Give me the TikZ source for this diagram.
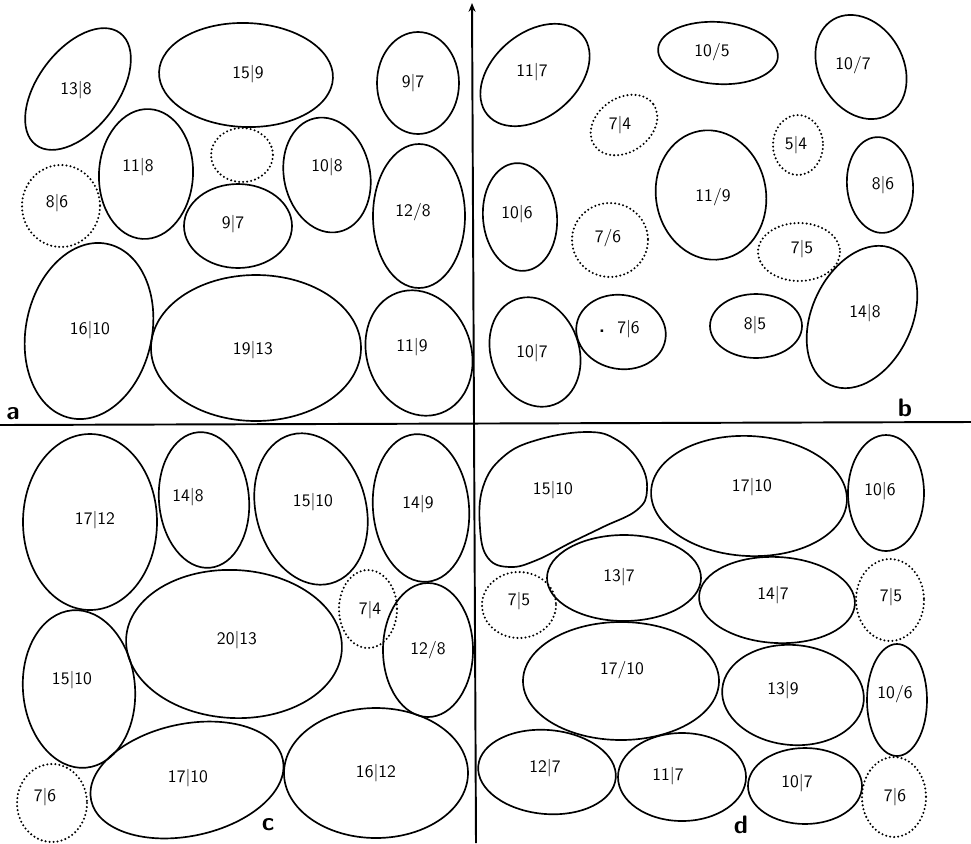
\documentclass[tikz,border=0pt]{standalone}
\usepackage{tikz}
\usetikzlibrary{arrows.meta}

\begin{document}
\begin{tikzpicture}[x=0.02cm, y=-0.02cm,
		blob/.style={line width=0.95pt},
		pore/.style={line width=1.3pt, line cap=round, dash pattern=on 0pt off 2.3pt},
		wert/.style={font=\sffamily, inner sep=1pt},
		feld/.style={font=\sffamily\bfseries\Large, inner sep=0pt}]
		
		\useasboundingbox (0,0) rectangle (971,843);
		
		% Achsen
		\coordinate (oben) at (472,3);
		\coordinate (unten) at (476,843);
		\coordinate (links) at (0,425);
		\coordinate (rechts) at (971,422);
		\draw[line width=1.1pt, -{Stealth[length=5pt,width=4pt]}] (unten) -- (oben);
		\draw[line width=1.1pt] (links) -- (rechts);
		
		% Feld a
		\foreach \x/\y/\a/\b/\r/\lx/\ly/\s/\t [count=\i] in {
			78/89/70/40/53/76/90/blob/13|8, 246/75/87/52/-2/248/74/blob/15|9,
			418/83/41/51/0/413/83/blob/9|7, 146/174/47/65/-3/138/167/blob/11|8,
			242/155/31/27/0/242/155/pore/{}, 327/175/43/58/12/327/167/blob/10|8,
			61/206/39/41/0/57/203/pore/8|6, 238/226/54/42/0/233/224/blob/9|7,
			419/216/46/72/0/413/212/blob/{12/8}, 89/331/63/89/-12/90/330/blob/16|10,
			256/348/105/73/0/253/350/blob/19|13, 419/353/52/64/20/412/347/blob/11|9}
		{
			\draw[\s, rotate around={\r:(\x,\y)}] (\x,\y) ellipse [x radius=\a, y radius=\b];
			\node[wert] (a\i) at (\lx,\ly) {\t};
		}
		\node[feld] (fa) at (13,414) {a};
		
		% Feld b
		\foreach \x/\y/\a/\b/\r/\lx/\ly/\s/\t [count=\i] in {
			535/75/62/42/40/532/72/blob/11|7, 718/53/60/31/-4/712/52/blob/{10/5},
			861/67/42/55/30/853/65/blob/{10/7}, 624/125/36/27/35/620/125/pore/7|4,
			798/145/25/30/0/796/145/pore/5|4, 520/217/37/54/5/517/214/blob/10|6,
			610/240/38/37/0/608/238/pore/{7/6}, 711/195/55/65/10/713/197/blob/{11/9},
			880/185/33/48/5/883/185/blob/8|6, 799/252/41/29/0/802/249/pore/7|5,
			535/352/44/56/20/532/353/blob/10|7, 621/332/45/37/-10/619/329/blob/{{\tiny\textbullet}~~7|6},
			756/326/46/32/0/755/325/blob/8|5, 862/317/50/75/-25/865/313/blob/14|8}
		{
			\draw[\s, rotate around={\r:(\x,\y)}] (\x,\y) ellipse [x radius=\a, y radius=\b];
			\node[wert] (b\i) at (\lx,\ly) {\t};
		}
		\node[feld] (fb) at (905,408) {b};
		
		% Feld c
		\foreach \x/\y/\a/\b/\r/\lx/\ly/\s/\t [count=\i] in {
			90/522/67/88/0/95/520/blob/17|12, 204/500/45/68/5/188/497/blob/14|8,
			311/509/55/77/15/313/502/blob/15|10, 421/508/48/74/5/418/504/blob/14|9,
			234/644/108/74/-3/237/640/blob/20|13, 368/609/29/39/0/370/610/pore/7|4,
			428/650/45/67/0/428/650/blob/{12/8}, 79/689/56/79/5/72/680/blob/15|10,
			187/780/98/56/12/188/778/blob/17|10, 376/773/92/65/0/376/773/blob/16|12,
			52/803/35/39/0/45/797/pore/7|6}
		{
			\draw[\s, rotate around={\r:(\x,\y)}] (\x,\y) ellipse [x radius=\a, y radius=\b];
			\node[wert] (c\i) at (\lx,\ly) {\t};
		}
		\node[feld] (fc) at (268,825) {c};
		
		% Feld d
		\draw[blob] plot[smooth cycle, tension=0.7] coordinates {
			(483,487) (503,457) (537,440) (587,432) (617,440) (640,463) (647,490)
			(637,510) (603,527) (570,543) (537,560) (510,567) (488,558) (480,528)};
		\node[wert] (d0) at (553,490) {15|10};
		\foreach \x/\y/\a/\b/\r/\lx/\ly/\s/\t [count=\i] in {
			749/496/98/60/-3/752/487/blob/17|10,
			886/493/38/58/0/880/491/blob/10|6, 519/605/37/33/0/519/601/pore/7|5,
			624/578/77/43/0/619/577/blob/13|7, 777/600/78/43/-3/773/595/blob/14|7,
			890/600/34/41/0/891/597/pore/7|5, 621/681/98/59/0/622/670/blob/{17/10},
			793/695/71/50/-5/783/690/blob/13|9, 897/700/30/56/0/895/694/blob/{10/6},
			547/772/69/42/-5/545/768/blob/12|7, 682/777/64/44/0/668/776/blob/11|7,
			805/786/57/38/0/797/783/blob/10|7, 894/797/32/40/0/895/797/pore/7|6}
		{
			\draw[\s, rotate around={\r:(\x,\y)}] (\x,\y) ellipse [x radius=\a, y radius=\b];
			\node[wert] (d\i) at (\lx,\ly) {\t};
		}
		\node[feld] (fd) at (741,825) {d};
		
	\end{tikzpicture}
\end{document}
